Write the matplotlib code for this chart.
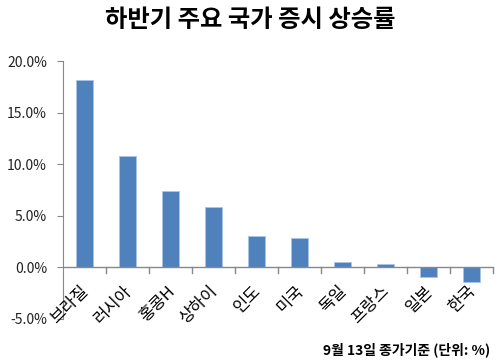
import matplotlib
matplotlib.use('Agg')
import matplotlib.pyplot as plt
from matplotlib.ticker import FuncFormatter

plt.rcParams['font.family'] = ['Noto Sans CJK KR', 'DejaVu Sans']

countries = ['브라질', '러시아', '홍콩H', '상하이', '인도', '미국', '독일', '프랑스', '일본', '한국']
returns = [18.15, 10.75, 7.4, 5.85, 3.05, 2.85, 0.5, 0.3, -0.95, -1.45]
yticks = [-5, 0, 5, 10, 15, 20]

fig = plt.figure(figsize=(5, 3.64), dpi=100)
ax = fig.add_axes([0.126, 0.125, 0.86, 0.707])

x = list(range(len(countries)))
ax.bar(x, returns, width=0.4, color='#4f81bd', edgecolor='#a9c4e6', linewidth=0.6, zorder=2)

ax.set_xlim(-0.5, len(countries) - 0.5)
ax.set_ylim(-5, 20)
ax.set_yticks(yticks)
ax.yaxis.set_major_formatter(FuncFormatter(lambda v, p: f'{v:.1f}%'))

for s in ['top', 'right', 'bottom']:
    ax.spines[s].set_visible(False)
ax.spines['left'].set_color('#888888')
ax.axhline(0, color='#888888', linewidth=1, zorder=3)

# category boundary ticks on the zero line
ax.set_xticks([])
for b in [i + 0.5 for i in range(len(countries))]:
    ax.plot([b, b], [0, -0.6], color='#888888', linewidth=1, zorder=3, clip_on=False)

for i, name in enumerate(countries):
    ax.text(i - 0.1, -1.5, name, rotation=45, ha='right', va='top',
            rotation_mode='anchor', fontsize=12)

ax.tick_params(axis='y', colors='#888888', labelcolor='#222222', labelsize=10,
               length=4.5, pad=7)

fig.text(0.5, 0.945, '하반기 주요 국가 증시 상승률', ha='center', va='center',
         fontsize=17.5, fontweight='bold')
fig.text(0.98, 0.038, '9월 13일 종가기준 (단위: %)', ha='right', va='center',
         fontsize=10, fontweight='bold')

fig.savefig('out.png', dpi=100)
